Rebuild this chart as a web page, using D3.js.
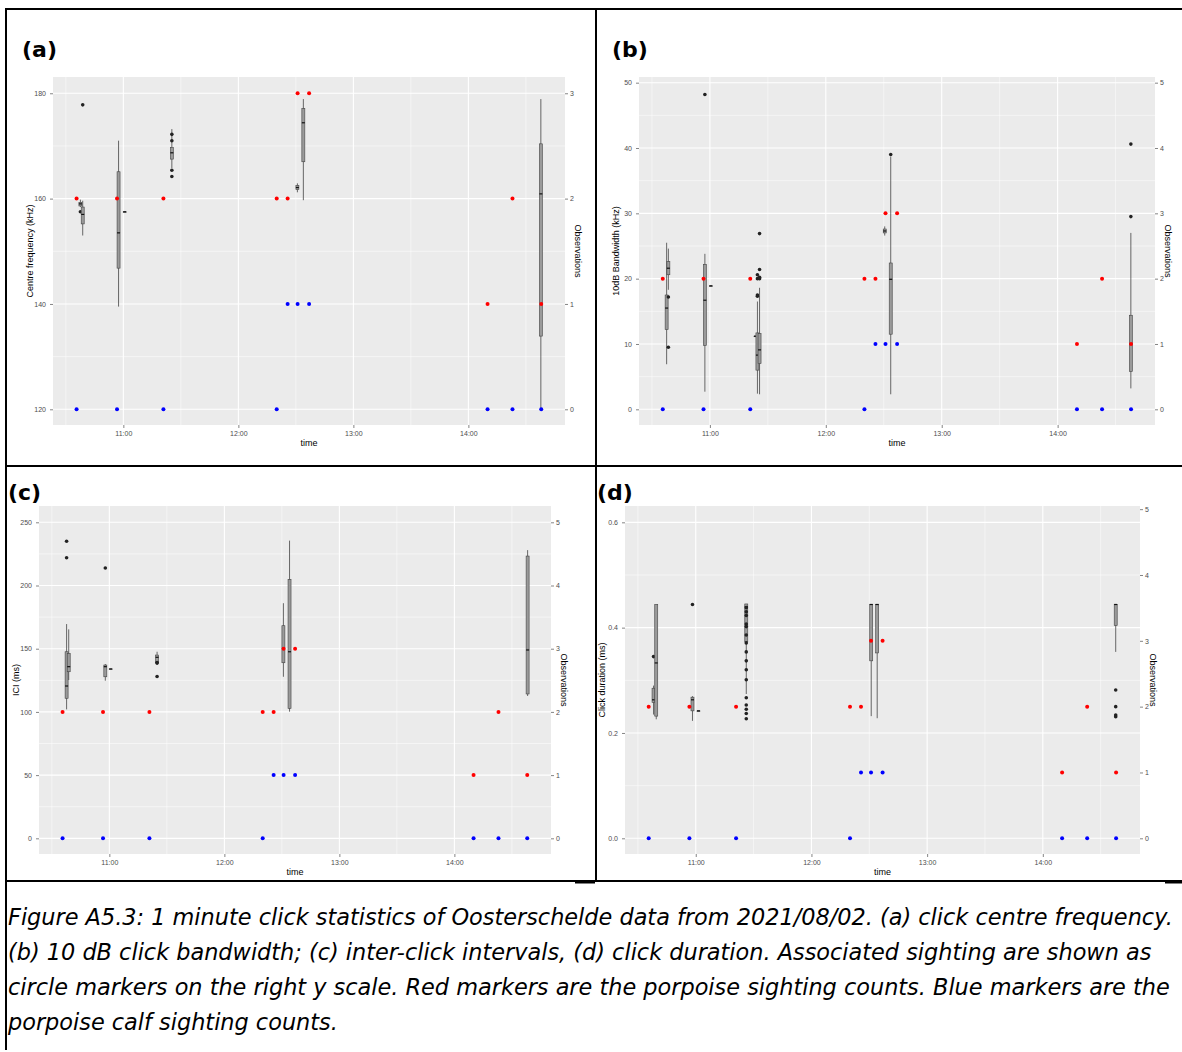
<!DOCTYPE html>
<html>
<head>
<meta charset="utf-8">
<script src="https://cdn.jsdelivr.net/npm/d3@7"></script>
<style>
    body { margin: 0; background: #fff; }
    svg { display: block; }
</style>
</head>
<body>
<svg id="figure" width="1182" height="1052"></svg>
<script>
// Sighting times and counts (right "Observations" axis)
const sightTimes = ['10:35:36', '10:56:42', '11:20:54', '12:20:00', '12:25:42',
    '12:30:54', '12:36:54', '14:10:00', '14:23:00', '14:38:00'];
const porpoiseCounts = [2, 2, 2, 2, 2, 3, 3, 1, 2, 1];
const calfCounts = [0, 0, 0, 0, 1, 1, 1, 0, 0, 0];

// Box plots per minute: [time, whiskerLow, q1, median, q3, whiskerHigh, outliers]
const freqBoxes = [
    ['10:37:36', 158.4, 158.6, 159.0, 159.3, 159.8, [157.5]],
    ['10:38:48', 153.0, 155.2, 157.0, 158.4, 159.6, [177.8]],
    ['10:57:30', 139.5, 146.8, 153.5, 165.1, 171.0, []],
    ['11:00:42', 157.5, 157.5, 157.5, 157.5, 157.5, []],
    ['11:25:18', 165.8, 167.5, 168.7, 169.7, 173.2, [172.2, 171.0, 165.4, 164.2]],
    ['12:30:48', 161.2, 161.7, 162.1, 162.5, 162.9, []],
    ['12:33:54', 159.7, 167.0, 174.4, 177.1, 178.9, []],
    ['14:37:48', 120.0, 133.9, 160.9, 170.4, 178.9, []]
];
const bandwidthBoxes = [
    ['10:37:36', 6.9, 12.2, 15.5, 17.5, 25.5, []],
    ['10:38:30', 18.3, 20.6, 21.6, 22.6, 24.6, [17.2, 9.5]],
    ['10:57:24', 2.7, 9.8, 16.7, 22.2, 23.8, [48.2]],
    ['11:00:30', 18.9, 18.9, 18.9, 18.9, 18.9, []],
    ['11:23:36', 11.2, 11.2, 11.2, 11.2, 11.2, []],
    ['11:24:36', 2.4, 6.0, 8.3, 11.7, 16.5, [17.5, 17.3, 20.6, 20.0]],
    ['11:25:42', 2.3, 7.0, 9.1, 11.6, 18.6, [26.9, 21.4, 20.2, 20.0]],
    ['12:30:30', 26.6, 27.0, 27.3, 27.6, 28.0, []],
    ['12:33:36', 2.3, 11.5, 19.9, 22.4, 38.7, [39.0]],
    ['14:37:54', 3.2, 5.8, 10.0, 14.4, 27.0, [40.6, 29.5]]
];
const iciBoxes = [
    ['10:37:42', 102.0, 110.8, 120.5, 147.6, 169.5, [235.0, 222.0]],
    ['10:38:48', 125.2, 131.8, 135.8, 146.3, 165.3, []],
    ['10:57:54', 124.7, 127.8, 135.8, 137.1, 137.9, [213.9]],
    ['11:00:42', 134.0, 134.0, 134.0, 134.0, 134.0, []],
    ['11:24:54', 138.4, 139.2, 143.2, 145.0, 147.6, [128.0, 139.0, 138.6]],
    ['12:30:48', 127.8, 138.9, 150.3, 168.2, 186.0, []],
    ['12:34:00', 100.2, 102.8, 147.6, 204.9, 235.5, []],
    ['14:38:12', 112.6, 114.2, 149.0, 223.3, 228.0, []]
];
const durationBoxes = [
    ['10:38:06', 0.235, 0.258, 0.263, 0.285, 0.290, [0.345]],
    ['10:39:30', 0.226, 0.232, 0.333, 0.444, 0.444, []],
    ['10:58:18', 0.223, 0.242, 0.263, 0.268, 0.270, [0.444]],
    ['11:01:24', 0.242, 0.242, 0.242, 0.242, 0.242, []],
    ['11:26:12', 0.274, 0.373, 0.440, 0.445, 0.445,
        [0.438, 0.430, 0.423, 0.407, 0.402, 0.386, 0.371, 0.354, 0.337, 0.320,
         0.301, 0.267, 0.253, 0.245, 0.237, 0.227]],
    ['12:31:00', 0.232, 0.337, 0.444, 0.444, 0.444, []],
    ['12:34:06', 0.228, 0.352, 0.444, 0.444, 0.444, []],
    ['14:37:48', 0.354, 0.404, 0.444, 0.444, 0.444, [0.2816, 0.250, 0.234, 0.231]]
];

const captionLines = [
    'Figure A5.3: 1 minute click statistics of Oosterschelde data from 2021/08/02. (a) click centre frequency.',
    '(b) 10 dB click bandwidth; (c) inter-click intervals, (d) click duration. Associated sighting are shown as',
    'circle markers on the right y scale. Red markers are the porpoise sighting counts. Blue markers are the',
    'porpoise calf sighting counts.'
];

const parseTime = d3.timeParse('%H:%M:%S');
const timeDomain = ['10:23:18', '14:50:24'].map(parseTime);

const svg = d3.select('#figure');

const panels = [
    {label: '(a)', labelX: 22, labelY: 57, left: 53, top: 77, width: 512, height: 348,
        yTitle: 'Centre frequency (kHz)', yDomain: [117.02, 183.09],
        yTicks: [120, 140, 160, 180], yMinor: [130, 150, 170], fmt: d3.format('d'),
        obsBase: 120, obsStep: 20, obsTicks: [0, 1, 2, 3], boxes: freqBoxes},
    {label: '(b)', labelX: 612, labelY: 57, left: 639, top: 77, width: 516, height: 348,
        yTitle: '10dB Bandwidth (kHz)', yDomain: [-2.4, 50.87],
        yTicks: [0, 10, 20, 30, 40, 50], yMinor: [5, 15, 25, 35, 45], fmt: d3.format('d'),
        obsBase: 0, obsStep: 10, obsTicks: [0, 1, 2, 3, 4, 5], boxes: bandwidthBoxes},
    {label: '(c)', labelX: 8, labelY: 500, left: 39, top: 506, width: 512, height: 348,
        yTitle: 'ICI (ms)', yDomain: [-12.4, 262.9],
        yTicks: [0, 50, 100, 150, 200, 250], yMinor: [25, 75, 125, 175, 225], fmt: d3.format('d'),
        obsBase: 0, obsStep: 50, obsTicks: [0, 1, 2, 3, 4, 5], boxes: iciBoxes},
    {label: '(d)', labelX: 597, labelY: 500, left: 625, top: 506, width: 515, height: 348,
        yTitle: 'Click duration (ms)', yDomain: [-0.0298, 0.631],
        yTicks: [0, 0.2, 0.4, 0.6], yMinor: [0.1, 0.3, 0.5], fmt: d3.format('.1f'),
        obsBase: 0, obsStep: 0.125, obsTicks: [0, 1, 2, 3, 4, 5], boxes: durationBoxes}
];

function styleAxis(axisG) {
    axisG.select('.domain').remove();
    axisG.selectAll('.tick line').attr('stroke', '#333').attr('stroke-width', 0.6);
    axisG.selectAll('.tick text')
        .attr('fill', '#4d4d4d')
        .style('font-family', '"Liberation Sans", Arial, sans-serif')
        .style('font-size', '7px');
}

function drawPanel(p) {
    const g = svg.append('g').attr('transform', `translate(${p.left},${p.top})`);
    const x = d3.scaleTime().domain(timeDomain).range([0, p.width]);
    const y = d3.scaleLinear().domain(p.yDomain).range([p.height, 0]);
    const obs = d3.scaleLinear()
        .domain(p.yDomain.map((v) => (v - p.obsBase) / p.obsStep))
        .range([p.height, 0]);

    g.append('rect').attr('width', p.width).attr('height', p.height).attr('fill', '#ebebeb');

    const majorTimes = x.ticks(d3.timeHour.every(1));
    const minorTimes = x.ticks(d3.timeMinute.every(30)).filter((d) => d.getMinutes() === 30);

    // minor grid
    g.selectAll(null).data(p.yMinor).enter().append('line')
        .attr('x1', 0).attr('x2', p.width)
        .attr('y1', (d) => y(d)).attr('y2', (d) => y(d))
        .attr('stroke', '#fff').attr('stroke-width', 0.5);
    g.selectAll(null).data(minorTimes).enter().append('line')
        .attr('y1', 0).attr('y2', p.height)
        .attr('x1', (d) => x(d)).attr('x2', (d) => x(d))
        .attr('stroke', '#fff').attr('stroke-width', 0.5);
    // major grid
    g.selectAll(null).data(p.yTicks).enter().append('line')
        .attr('x1', 0).attr('x2', p.width)
        .attr('y1', (d) => y(d)).attr('y2', (d) => y(d))
        .attr('stroke', '#fff').attr('stroke-width', 1.1);
    g.selectAll(null).data(majorTimes).enter().append('line')
        .attr('y1', 0).attr('y2', p.height)
        .attr('x1', (d) => x(d)).attr('x2', (d) => x(d))
        .attr('stroke', '#fff').attr('stroke-width', 1.1);

    // box plots
    const bw = 3;
    const boxes = g.selectAll(null).data(p.boxes).enter().append('g')
        .attr('transform', (d) => `translate(${x(parseTime(d[0]))},0)`);
    boxes.append('line')
        .attr('x1', 0).attr('x2', 0)
        .attr('y1', (d) => y(d[1])).attr('y2', (d) => y(d[5]))
        .attr('stroke', '#444').attr('stroke-width', 0.8);
    boxes.append('rect')
        .attr('x', -bw / 2).attr('width', bw)
        .attr('y', (d) => y(d[4]))
        .attr('height', (d) => Math.max(0.6, y(d[2]) - y(d[4])))
        .attr('fill', '#9a9a9a').attr('stroke', '#444').attr('stroke-width', 0.6);
    boxes.append('line')
        .attr('x1', -bw / 2).attr('x2', bw / 2)
        .attr('y1', (d) => y(d[3])).attr('y2', (d) => y(d[3]))
        .attr('stroke', '#111').attr('stroke-width', 1.2);
    boxes.selectAll('circle').data((d) => d[6]).enter().append('circle')
        .attr('cx', 0).attr('cy', (d) => y(d)).attr('r', 1.8)
        .attr('fill', '#222');

    // sightings
    g.selectAll(null).data(sightTimes).enter().append('circle')
        .attr('cx', (d) => x(parseTime(d)))
        .attr('cy', (d, i) => obs(porpoiseCounts[i]))
        .attr('r', 2).attr('fill', '#ff0000');
    g.selectAll(null).data(sightTimes).enter().append('circle')
        .attr('cx', (d) => x(parseTime(d)))
        .attr('cy', (d, i) => obs(calfCounts[i]))
        .attr('r', 2).attr('fill', '#0000ff');

    // axes
    styleAxis(g.append('g').attr('transform', `translate(0,${p.height})`)
        .call(d3.axisBottom(x).tickValues(majorTimes).tickFormat(d3.timeFormat('%H:%M'))
            .tickSize(3).tickPadding(3)));
    styleAxis(g.append('g')
        .call(d3.axisLeft(y).tickValues(p.yTicks).tickFormat(p.fmt).tickSize(3).tickPadding(4)));
    styleAxis(g.append('g').attr('transform', `translate(${p.width},0)`)
        .call(d3.axisRight(obs).tickValues(p.obsTicks).tickFormat(d3.format('d'))
            .tickSize(3).tickPadding(2)));

    const titleFont = '"Liberation Sans", Arial, sans-serif';
    g.append('text').text('time')
        .attr('x', p.width / 2).attr('y', p.height + 21)
        .attr('text-anchor', 'middle')
        .style('font-family', titleFont).style('font-size', '9px');
    g.append('text').text(p.yTitle)
        .attr('transform', `translate(-20,${p.height / 2}) rotate(-90)`)
        .attr('text-anchor', 'middle')
        .style('font-family', titleFont).style('font-size', '9px');
    g.append('text').text('Observations')
        .attr('transform', `translate(${p.width + 10},${p.height / 2}) rotate(90)`)
        .attr('text-anchor', 'middle')
        .style('font-family', titleFont).style('font-size', '9px');

    svg.append('text').text(p.label)
        .attr('x', p.labelX).attr('y', p.labelY)
        .style('font-family', '"DejaVu Sans", Verdana, sans-serif')
        .style('font-weight', 'bold').style('font-size', '22px');
}

panels.forEach(drawPanel);

// table borders
const borders = [
    [5, 9, 1182, 9], [6, 8, 6, 1050], [596, 8, 596, 881],
    [5, 466, 1182, 466], [5, 881, 1182, 881]
];
svg.selectAll(null).data(borders).enter().append('line')
    .attr('x1', (d) => d[0]).attr('y1', (d) => d[1])
    .attr('x2', (d) => d[2]).attr('y2', (d) => d[3])
    .attr('stroke', '#000').attr('stroke-width', 2);

// bottom edges of the pasted panel images
svg.selectAll(null).data([[575, 595], [1165, 1182]]).enter().append('line')
    .attr('x1', (d) => d[0]).attr('x2', (d) => d[1])
    .attr('y1', 882).attr('y2', 882)
    .attr('stroke', '#000').attr('stroke-width', 3);

svg.selectAll(null).data(captionLines).enter().append('text')
    .text((d) => d)
    .attr('x', 8).attr('y', (d, i) => 925 + i * 35)
    .style('font-family', '"DejaVu Sans", Verdana, sans-serif')
    .style('font-style', 'italic').style('font-size', '22.4px');
</script>
</body>
</html>
